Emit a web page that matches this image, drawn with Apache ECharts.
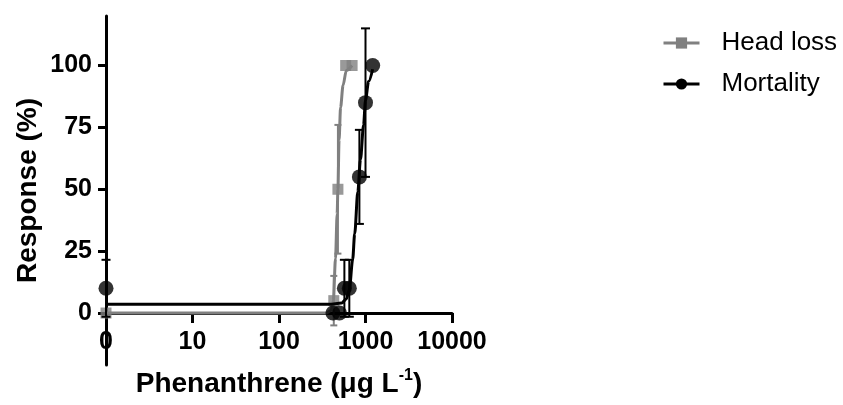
<!DOCTYPE html>
<html>
<head>
<meta charset="utf-8">
<script src="https://cdn.jsdelivr.net/npm/echarts@6/dist/echarts.min.js"></script>
<style>
  html, body { margin: 0; padding: 0; background: #fff; }
  #chart { width: 843px; height: 405px; }
</style>
</head>
<body>
<div id="chart"></div>
<script>
// measured points (0 is drawn at the log axis origin, value 1)
const headLossConc = [0, 430, 480, 590, 700];
const headLossResp = [0, 5, 50, 100, 100];
const headLossErr = [0, 10, 26, 0, 0];

const mortalityConc = [0, 420, 500, 570, 650, 850, 1000, 1210];
const mortalityResp = [10, 0, 0, 10, 10, 55, 85, 100];
const mortalityErr = [11.5, 0, 0, 11.5, 11.5, 19, 30, 0];

// fitted curves
const headLossFitX = [1, 350, 400, 425, 450, 470, 480, 495, 515, 550, 600, 700];
const headLossFitY = [0, 0, 1, 5, 22, 40, 50, 70, 83, 92, 98, 100];
const mortalityFitX = [1, 380, 530, 600, 650, 710, 750, 815, 875, 950, 1000, 1085, 1210];
const mortalityFitY = [3.5, 3.5, 4, 5.7, 9.3, 21.5, 32, 49, 62, 76, 86, 93.5, 98.5];

const xTicks = [1, 10, 100, 1000, 10000];
const xTickLabels = ['0', '10', '100', '1000', '10000'];
const yTicks = [0, 25, 50, 75, 100];

const GRAY = '#808080';
const BLACK = '#000000';
const FONT = '"Liberation Sans", Arial, sans-serif';

const Y_MIN = -21, Y_MAX = 120;
const GRID_TOP = 16, GRID_BOTTOM = 40, HEIGHT = 405;

const toX = c => (c === 0 ? 1 : c);
const pairs = (xs, ys) => xs.map((x, i) => [toX(x), ys[i]]);
const errPairs = (xs, ys, es) => xs.map((x, i) => [toX(x), ys[i], es[i]]);

// the x axis sits on y = 0, lifted up from the grid bottom
const gridH = HEIGHT - GRID_TOP - GRID_BOTTOM;
const xAxisLift = gridH * (0 - Y_MIN) / (Y_MAX - Y_MIN);

function errorBars(color, capHalf) {
  return function (params, api) {
    const x = api.value(0), y = api.value(1), e = api.value(2);
    if (!e) return null;
    const top = api.coord([x, y + e]);
    const bot = api.coord([x, y - e]);
    const style = { stroke: color, lineWidth: 2 };
    return {
      type: 'group',
      children: [
        { type: 'line', shape: { x1: top[0], y1: top[1], x2: bot[0], y2: bot[1] }, style: style },
        { type: 'line', shape: { x1: top[0] - capHalf, y1: top[1], x2: top[0] + capHalf, y2: top[1] }, style: style },
        { type: 'line', shape: { x1: bot[0] - capHalf, y1: bot[1], x2: bot[0] + capHalf, y2: bot[1] }, style: style }
      ]
    };
  };
}

const chart = echarts.init(document.getElementById('chart'));
chart.setOption({
  animation: false,
  backgroundColor: '#fff',
  grid: { left: 106, right: 391, top: GRID_TOP, bottom: GRID_BOTTOM, containLabel: false, outerBoundsMode: 'none' },
  legend: {
    data: ['Head loss', 'Mortality'],
    orient: 'vertical',
    left: 662,
    top: 30,
    padding: 0,
    itemWidth: 36,
    itemHeight: 14,
    itemGap: 15,
    lineStyle: { width: 3 },
    textStyle: { fontFamily: FONT, fontSize: 26, color: '#000', padding: [0, 0, 0, 17] }
  },
  xAxis: {
    type: 'log',
    logBase: 10,
    min: 1,
    max: 10000,
    position: 'bottom',
    offset: -xAxisLift,
    name: '{a|Phenanthrene (}{a|\u03bcg L}{sup|-1}{a|)}',
    nameLocation: 'middle',
    nameGap: 55,
    nameTextStyle: {
      rich: {
        a: { fontFamily: FONT, fontSize: 28, fontWeight: 'bold', color: '#000' },
        sup: { fontFamily: FONT, fontSize: 16, fontWeight: 'bold', color: '#000', padding: [0, 0, 17, 0] }
      }
    },
    axisLine: { onZero: false, lineStyle: { color: BLACK, width: 3 } },
    axisTick: { customValues: xTicks, length: 10, lineStyle: { color: BLACK, width: 3 } },
    axisLabel: {
      customValues: xTicks,
      formatter: v => xTickLabels[xTicks.indexOf(v)] ?? String(v),
      margin: 17,
      fontFamily: FONT, fontSize: 25, fontWeight: 'bold', color: '#000'
    },
    splitLine: { show: false },
    minorTick: { show: false }
  },
  yAxis: {
    type: 'value',
    min: Y_MIN,
    max: Y_MAX,
    name: 'Response (%)',
    nameLocation: 'middle',
    nameGap: 64,
    nameTextStyle: { fontFamily: FONT, fontSize: 28, fontWeight: 'bold', color: '#000' },
    axisLine: { show: true, lineStyle: { color: BLACK, width: 3 } },
    axisTick: { show: true, customValues: yTicks, length: 8, lineStyle: { color: BLACK, width: 3 } },
    axisLabel: { customValues: yTicks, margin: 14, fontFamily: FONT, fontSize: 25, fontWeight: 'bold', color: '#000' },
    splitLine: { show: false }
  },
  series: [
    {
      name: 'Head loss',
      type: 'line',
      data: pairs(headLossFitX, headLossFitY),
      symbol: 'rect',
      showSymbol: false,
      smooth: 0.3,
      smoothMonotone: 'x',
      color: GRAY,
      lineStyle: { color: GRAY, width: 3 },
      z: 2
    },
    {
      name: 'Head loss bars',
      type: 'custom',
      data: errPairs(headLossConc, headLossResp, headLossErr),
      renderItem: errorBars(GRAY, 3.5),
      z: 2
    },
    {
      name: 'Head loss points',
      type: 'scatter',
      data: pairs(headLossConc, headLossResp),
      symbol: 'rect',
      symbolSize: 11,
      itemStyle: { color: GRAY },
      z: 3
    },
    {
      name: 'Mortality',
      type: 'line',
      data: pairs(mortalityFitX, mortalityFitY),
      symbol: 'circle',
      showSymbol: false,
      smooth: 0.3,
      smoothMonotone: 'x',
      color: BLACK,
      lineStyle: { color: BLACK, width: 3 },
      z: 4
    },
    {
      name: 'Mortality bars',
      type: 'custom',
      data: errPairs(mortalityConc, mortalityResp, mortalityErr),
      renderItem: errorBars(BLACK, 4.5),
      z: 4
    },
    {
      name: 'Mortality points',
      type: 'scatter',
      data: pairs(mortalityConc, mortalityResp),
      symbol: 'circle',
      symbolSize: 15,
      itemStyle: { color: BLACK },
      z: 5
    }
  ]
});
</script>
</body>
</html>
